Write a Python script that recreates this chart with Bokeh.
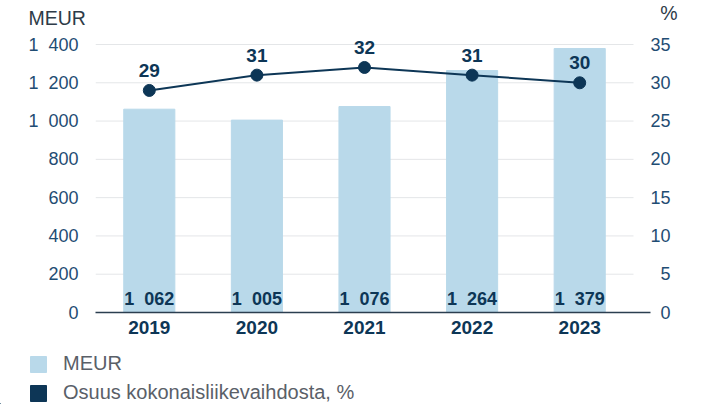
from bokeh.plotting import figure
from bokeh.models import (Range1d, LinearAxis, FixedTicker, ColumnDataSource,
                          Legend, LegendItem, Title, Plot)
from bokeh.layouts import column
from bokeh.core.properties import value
from bokeh.embed import file_html
from bokeh.resources import INLINE

years = ["2019", "2020", "2021", "2022", "2023"]
meur = [1062, 1005, 1076, 1264, 1379]
meur_labels = ["1\u2007062", "1\u2007005", "1\u2007076", "1\u2007264", "1\u2007379"]
share = [29, 31, 32, 31, 30]
share_labels = ["29", "31", "32", "31", "30"]
left_ticks = [0, 200, 400, 600, 800, 1000, 1200, 1400]
left_tick_labels = ["0", "200", "400", "600", "800", "1\u2007000", "1\u2007200", "1\u2007400"]
right_ticks = [0, 5, 10, 15, 20, 25, 30, 35]
right_tick_labels = ["\u20070", "\u20075", "10", "15", "20", "25", "30", "35"]
left_unit = "MEUR"
right_unit = "%"
legend_labels = ["MEUR", "Osuus kokonaisliikevaihdosta, %"]

FONT = "Liberation Sans"
BAR = "#b9d9ea"
DARK = "#0d3656"
TICK = "#1f4d73"

PX = 268 / 1400          # pixels per MEUR unit
FH = 280                 # frame height
YMAX = FH / PX

NOALIGN = {"frame_align": False} if "frame_align" in Plot.properties() else {}

xs = list(range(len(years)))
src = ColumnDataSource(dict(x=xs, meur=meur, ml=meur_labels, share=share, sl=share_labels))

p = figure(output_backend="svg", toolbar_location=None,
           frame_width=555, frame_height=FH,
           x_range=Range1d(-0.5, -0.5 + 555 / 107.6), y_range=Range1d(0, YMAX),
           min_border_left=95, min_border_right=55, min_border_top=30, min_border_bottom=30,
           **NOALIGN)
p.extra_y_ranges = {"pct": Range1d(0, YMAX / 40)}
p.outline_line_color = None
p.grid.visible = False

gl = left_ticks[1:]
p.segment(x0=[-0.5] * len(gl), x1=[4.5] * len(gl), y0=gl, y1=gl,
          line_color="#e4e6e8", line_width=1)

bars = p.vbar(x="x", top="meur", width=0.475, color=BAR, source=src)
p.text(x="x", y=0, text="ml", source=src, y_offset=-14, text_align="center",
       text_baseline="middle", text_font=value(FONT), text_font_style="bold",
       text_font_size="18px", text_color=DARK)

p.line(x="x", y="share", source=src, y_range_name="pct", line_color=DARK, line_width=2)
p.scatter(x="x", y="share", source=src, y_range_name="pct", size=12, color=DARK)
p.text(x="x", y="share", text="sl", source=src, y_range_name="pct", y_offset=-20,
       text_align="center", text_baseline="middle", text_font=value(FONT),
       text_font_style="bold", text_font_size="19px", text_color=DARK)

xa = p.xaxis[0]
xa.ticker = FixedTicker(ticks=xs)
xa.major_label_overrides = {i: y for i, y in enumerate(years)}
xa.major_tick_line_color = None
xa.minor_tick_line_color = None
xa.axis_line_color = "#2b3e50"
xa.axis_line_width = 1.5
xa.major_label_text_font = FONT
xa.major_label_text_font_style = "bold"
xa.major_label_text_font_size = "19px"
xa.major_label_text_color = DARK
xa.major_label_standoff = 2

ya = p.yaxis[0]
ya.ticker = FixedTicker(ticks=left_ticks)
ya.major_label_overrides = {t: l for t, l in zip(left_ticks, left_tick_labels)}
ya.major_tick_line_color = None
ya.minor_tick_line_color = None
ya.axis_line_color = None
ya.major_label_text_font = FONT
ya.major_label_text_font_size = "18px"
ya.major_label_text_color = TICK
ya.major_label_standoff = 11

ra = LinearAxis(y_range_name="pct", ticker=FixedTicker(ticks=right_ticks))
ra.major_label_overrides = {t: l for t, l in zip(right_ticks, right_tick_labels)}
ra.major_tick_line_color = None
ra.minor_tick_line_color = None
ra.axis_line_color = None
ra.major_label_text_font = FONT
ra.major_label_text_font_size = "18px"
ra.major_label_text_color = TICK
ra.major_label_standoff = -6
p.add_layout(ra, "right")

# unit headings
t1 = Title(text=left_unit, align="left", offset=-67, standoff=8,
           text_font=FONT, text_font_size="19.5px", text_font_style="normal",
           text_color="#2e3b48")
p.add_layout(t1, "above")
t2 = Title(text=right_unit, align="right", offset=-27, standoff=-46,
           text_font=FONT, text_font_size="19.5px", text_font_style="normal",
           text_color="#2e3b48")
p.add_layout(t2, "above")

# legend in its own strip below the chart
leg = figure(output_backend="svg", toolbar_location=None, width=705, height=62,
             x_range=Range1d(0, 705), y_range=Range1d(0, 62),
             x_axis_type=None, y_axis_type=None, min_border=0, **NOALIGN)
leg.outline_line_color = None
leg.grid.visible = False
r1 = leg.vbar(x=[-1000], top=[1], width=1, color=BAR)
r2 = leg.vbar(x=[-1000], top=[1], width=1, color=DARK)
legend = Legend(items=[LegendItem(label=legend_labels[0], renderers=[r1]),
                       LegendItem(label=legend_labels[1], renderers=[r2])],
                location=(28, 0), orientation="vertical",
                glyph_width=20, glyph_height=20, label_standoff=15, spacing=6,
                padding=0, margin=0, border_line_alpha=0, background_fill_alpha=0,
                label_text_font=FONT, label_text_font_size="20px", label_text_color="#5a6068")
leg.add_layout(legend, "center")

layout = column(p, leg, spacing=0)
open("out.html", "w").write(file_html(layout, INLINE))
